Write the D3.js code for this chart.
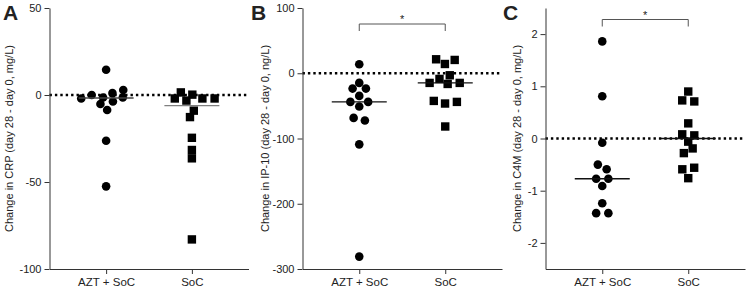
<!DOCTYPE html>
<html>
<head>
<meta charset="utf-8">
<script src="https://cdn.jsdelivr.net/npm/d3@7"></script>
<style>
  body { margin: 0; background: #fff; }
  text { font-family: "Liberation Sans", Arial, sans-serif; fill: #222; }
</style>
</head>
<body>
<div id="chart"></div>
<script>
// values
var groups = ["AZT + SoC", "SoC"];

var crpAzt = [14.5, 2.9, 1.1, 0, -1.4, -1.4, -2.0, -3.7, -5.2, -8.6, -26.3, -52.5];
var crpSoc = [1.5, 0.2, -2.0, -2.0, -2.0, -3.2, -9.0, -12.7, -24.6, -31.6, -36.4, -83];
var crpTicks = [50, 0, -50, -100];

var ip10Azt = [13.8, -14.8, -23.5, -23.5, -34.7, -43.9, -43.9, -51, -68.4, -72.4, -109, -281];
var ip10Soc = [21.4, 20.4, 14.2, -3.1, -8.7, -14.8, -14.8, -16.4, -42.4, -43.9, -46.4, -81.6];
var ip10Ticks = [100, 0, -100, -200, -300];

var c4mAzt = [1.86, 0.81, -0.08, -0.50, -0.59, -0.77, -0.77, -0.91, -1.24, -1.43, -1.43];
var c4mSoc = [0.90, 0.73, 0.71, 0.29, 0.08, 0.06, -0.06, -0.19, -0.28, -0.56, -0.59, -0.76];
var c4mTicks = [2, 1, 0, -1, -2];

var letters = ["A", "B", "C"];
var yLabels = ["Change in CRP (day 28 - day 0, mg/L)",
               "Change in IP-10 (day 28 - day 0, ng/L)",
               "Change in C4M  (day 28 - day 0, mg/L)"];
var stars = ["", "*", "*"];

var panels = [
    {azt: crpAzt, soc: crpSoc, ticks: crpTicks, domain: [-100, 50]},
    {azt: ip10Azt, soc: ip10Soc, ticks: ip10Ticks, domain: [-300, 100]},
    {azt: c4mAzt, soc: c4mSoc, ticks: c4mTicks, domain: [-2.5, 2.5]}
];

// where each panel sits
var layout = [
    {letterX: 3, axisX: 49.5, right: 248.5, labelX: 9, lines: ["#444", "#808080"]},
    {letterX: 251, axisX: 302.5, right: 502, labelX: 265, lines: ["#111", "#111"], bracketY: 24},
    {letterX: 503, axisX: 545.5, right: 745, labelX: 517, lines: ["#111", "#111"], bracketY: 19.5}
];

var plotTop = 8, plotBottom = 269;

var svg = d3.select("#chart").append("svg")
    .attr("width", 746)
    .attr("height", 289);

// beeswarm offsets, y stretched so points may overlap a bit vertically like the original
function swarm(values, y, cx) {
    var nodes = values.map(function(v) {
        return {v: v, x: cx, y: y(v) * 1.8, fy: y(v) * 1.8};
    });
    var sim = d3.forceSimulation(nodes)
        .force("x", d3.forceX(cx).strength(0.08))
        .force("collide", d3.forceCollide(6.1).iterations(4))
        .stop();
    for (var i = 0; i < 300; i++) sim.tick();
    return nodes;
}

panels.forEach(function(p, i) {
    var L = layout[i];
    var g = svg.append("g");

    var y = d3.scaleLinear().domain(p.domain).range([plotBottom, plotTop]);
    var x = d3.scalePoint().domain(groups).range([L.axisX, L.right]).padding(0.66);

    // zero line
    g.append("line")
        .attr("x1", L.axisX).attr("x2", L.right)
        .attr("y1", y(0)).attr("y2", y(0))
        .attr("stroke", "#000")
        .attr("stroke-width", 2.4)
        .attr("stroke-dasharray", "2.4,3");

    g.append("g")
        .attr("transform", "translate(" + L.axisX + ",0)")
        .call(d3.axisLeft(y).tickValues(p.ticks).tickSize(5).tickSizeOuter(0)
            .tickPadding(3).tickFormat(function(d) { return String(d); }));

    var xAxis = g.append("g")
        .attr("transform", "translate(0," + plotBottom + ")")
        .call(d3.axisBottom(x).tickSize(5).tickSizeOuter(0).tickPadding(4));

    g.selectAll(".tick text")
        .style("font-size", "11px")
        .attr("fill", "#222");
    xAxis.selectAll(".tick text").style("font-size", "11.5px");
    g.selectAll("path.domain, .tick line").attr("stroke", "#333");

    // AZT + SoC: circles
    var ptsA = swarm(p.azt, y, x(groups[0]));
    g.selectAll(".dotA")
        .data(ptsA)
        .enter().append("circle")
        .attr("class", "dotA")
        .attr("cx", function(d) { return d.x; })
        .attr("cy", function(d) { return y(d.v); })
        .attr("r", 4.3)
        .attr("fill", "#000");

    // SoC: squares
    var ptsB = swarm(p.soc, y, x(groups[1]));
    g.selectAll(".sq")
        .data(ptsB)
        .enter().append("rect")
        .attr("class", "sq")
        .attr("x", function(d) { return d.x - 4.2; })
        .attr("y", function(d) { return y(d.v) - 4.2; })
        .attr("width", 8.4)
        .attr("height", 8.4)
        .attr("fill", "#000");

    // medians
    [p.azt, p.soc].forEach(function(vals, k) {
        var m = d3.median(vals);
        var cx = x(groups[k]);
        g.append("line")
            .attr("x1", cx - 27.5).attr("x2", cx + 27.5)
            .attr("y1", y(m)).attr("y2", y(m))
            .attr("stroke", L.lines[k])
            .attr("stroke-width", 1.4);
    });

    // significance bracket
    if (stars[i]) {
        var x1 = x(groups[0]), x2 = x(groups[1]);
        g.append("path")
            .attr("d", "M" + x1 + "," + (L.bracketY + 7) + "V" + L.bracketY + "H" + x2 + "V" + (L.bracketY + 7))
            .attr("fill", "none")
            .attr("stroke", "#555")
            .attr("stroke-width", 1);
        g.append("text")
            .attr("x", (x1 + x2) / 2)
            .attr("y", L.bracketY - 1)
            .attr("text-anchor", "middle")
            .style("font-size", "11px")
            .text(stars[i]);
    }

    // y label
    g.append("text")
        .attr("transform", "translate(" + L.labelX + "," + (plotTop + plotBottom) / 2 + ") rotate(-90)")
        .attr("text-anchor", "middle")
        .attr("dominant-baseline", "central")
        .style("font-size", "11px")
        .text(yLabels[i]);

    // panel letter
    g.append("text")
        .attr("x", L.letterX)
        .attr("y", 20)
        .style("font-size", "21px")
        .style("font-weight", "bold")
        .attr("fill", "#000")
        .text(letters[i]);
});
</script>
</body>
</html>
